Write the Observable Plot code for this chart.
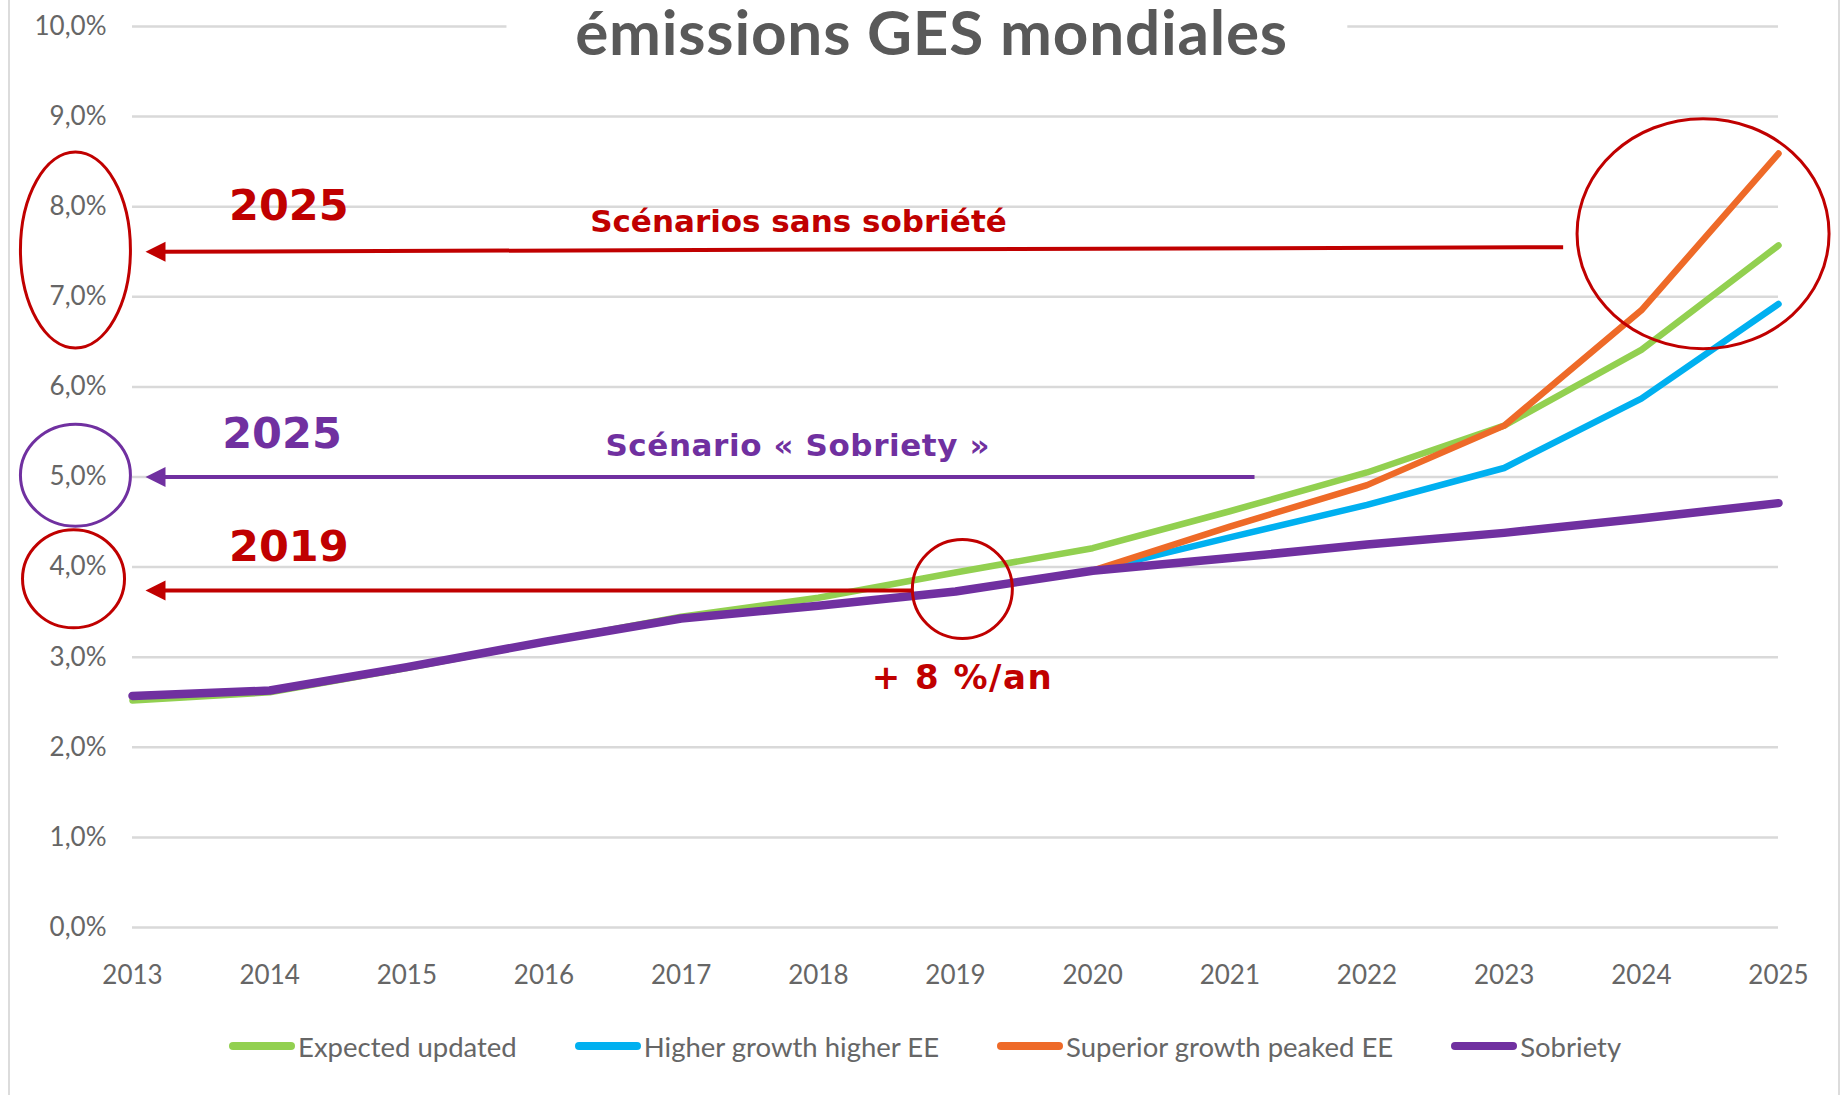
<!DOCTYPE html>
<html>
<head>
<meta charset="utf-8">
<script src="https://cdn.jsdelivr.net/npm/d3@7"></script>
<script src="https://cdn.jsdelivr.net/npm/@observablehq/plot@0.6"></script>
<style>
  html, body { margin: 0; padding: 0; background: #ffffff; }
  #wrap { position: relative; width: 1845px; height: 1095px; overflow: hidden; background: #fff; }
  #chart { position: absolute; left: 0; top: 0; }
  #legend { position: absolute; left: 229px; top: 1010px; height: 72px; display: flex; align-items: center;
            font-family: Lato, sans-serif; font-size: 27.5px; color: #666; }
  .item { display: flex; align-items: center; margin-right: 58px; }
  .sw { display: inline-block; width: 66px; height: 8px; border-radius: 4px; margin-right: 3px; }
  .frame { position: absolute; top: 0; width: 2px; height: 1095px; background: #dcdcdc; }
</style>
</head>
<body>
<div id="wrap">
  <div id="chart"></div>
  <div id="legend"></div>
  <div class="frame" style="left:8px"></div>
  <div class="frame" style="left:1838px"></div>
</div>
<script>
// ---------------- data ----------------
const years = [2013, 2014, 2015, 2016, 2017, 2018, 2019, 2020, 2021, 2022, 2023, 2024, 2025];
const expectedUpdated = [2.52, 2.61, 2.88, 3.17, 3.45, 3.66, 3.94, 4.21, 4.62, 5.05, 5.57, 6.41, 7.57];
const higherGrowthHigherEE = [2.57, 2.63, 2.89, 3.17, 3.43, 3.57, 3.73, 3.96, 4.33, 4.69, 5.10, 5.87, 6.92];
const superiorGrowthPeakedEE = [2.57, 2.63, 2.89, 3.17, 3.43, 3.57, 3.73, 3.96, 4.45, 4.91, 5.57, 6.85, 8.59];
const sobriety = [2.57, 2.63, 2.89, 3.17, 3.43, 3.57, 3.73, 3.96, 4.10, 4.25, 4.38, 4.54, 4.71];
const seriesNames = ["Expected updated", "Higher growth higher EE", "Superior growth peaked EE", "Sobriety"];
const yTicks = [0, 1, 2, 3, 4, 5, 6, 7, 8, 9, 10];
const title = "émissions GES mondiales";

// annotations (in data units: year, percent)
const annotationTexts = [
  {text: "2025", x: 2014.14, y: 8.00, kind: "big", color: "red"},
  {text: "Scénarios sans sobriété", x: 2017.855, y: 7.83, kind: "small", color: "red"},
  {text: "2025", x: 2014.09, y: 5.48, kind: "big", color: "purple"},
  {text: "Scénario « Sobriety »", x: 2017.85, y: 5.34, kind: "small", color: "purple"},
  {text: "2019", x: 2014.14, y: 4.22, kind: "big", color: "red"},
  {text: "+ 8 %/an", x: 2019.05, y: 2.77, kind: "medium", color: "red"}
];
const arrows = [
  {tipX: 2013.095, tipY: 7.50, endX: 2023.43, endY: 7.55, color: "red"},
  {tipX: 2013.095, tipY: 5.00, endX: 2021.18, endY: 5.00, color: "purple"},
  {tipX: 2013.095, tipY: 3.74, endX: 2018.69, endY: 3.74, color: "red"}
];
const ellipseCenters = [
  {id: "top", x: 2024.45, y: 7.70, color: "red"},
  {id: "left8", x: 2012.584, y: 7.52, color: "red"},
  {id: "left5", x: 2012.584, y: 5.02, color: "purple"},
  {id: "left4", x: 2012.57, y: 3.87, color: "red"},
  {id: "y2019", x: 2019.05, y: 3.757, color: "red"}
];
const gridBreak = [{x1: 2013, x2: 2015.73}, {x1: 2021.86, x2: 2025}];

// ---------------- styles ----------------
const seriesColors = ["#92D050", "#00B0F0", "#EE6A28", "#7030A0"];
const seriesWidths = [6.5, 6.5, 6.5, 8.5];
const annColors = {red: "#C00000", purple: "#7030A0"};
const annSizes = {big: 43, small: 31, medium: 34};
const ellipseSizes = {top: [126, 115], left8: [55, 98], left5: [55, 51], left4: [51, 49], y2019: [50, 49.5]};
const letterSpacing = {"+ 8 %/an": "1.5px", "Scénario « Sobriety »": "0.6px"};

// ---------------- table ----------------
const seriesValues = [expectedUpdated, higherGrowthHigherEE, superiorGrowthPeakedEE, sobriety];
const table = [];
seriesNames.forEach((name, s) => years.forEach((yr, i) => table.push({series: name, year: yr, value: seriesValues[s][i]})));

function ellipseSymbol(rx, ry) {
  const k = 0.5523;
  return {draw(c) {
    c.moveTo(rx, 0);
    c.bezierCurveTo(rx, k * ry, k * rx, ry, 0, ry);
    c.bezierCurveTo(-k * rx, ry, -rx, k * ry, -rx, 0);
    c.bezierCurveTo(-rx, -k * ry, -k * rx, -ry, 0, -ry);
    c.bezierCurveTo(k * rx, -ry, rx, -k * ry, rx, 0);
    c.closePath();
  }};
}
const arrowHead = {draw(c) { c.moveTo(0, 0); c.lineTo(20, -10); c.lineTo(20, 10); c.closePath(); }};

const marks = [];
// gridlines
marks.push(Plot.ruleY(yTicks.filter(d => d < 10), {x1: 2013, x2: 2025, stroke: "#d9d9d9", strokeWidth: 2.5}));
marks.push(Plot.ruleY(gridBreak, {y: () => 10, x1: "x1", x2: "x2", stroke: "#d9d9d9", strokeWidth: 2.5}));
// title
marks.push(Plot.text([title], {frameAnchor: "top", dx: -24, dy: 9, lineAnchor: "middle", text: d => d,
  fontFamily: "Lato, sans-serif", fontSize: 62, fontWeight: "bold", fill: "#595959"}));
// series lines
seriesNames.forEach((name, s) => {
  marks.push(Plot.line(table.filter(d => d.series === name), {x: "year", y: "value",
    stroke: seriesColors[s], strokeWidth: seriesWidths[s], strokeLinejoin: "round", strokeLinecap: "round"}));
});
// arrows
marks.push(Plot.link(arrows, {x1: "endX", y1: "endY", x2: d => d.tipX + 0.1, y2: "tipY",
  stroke: d => annColors[d.color], strokeWidth: 4}));
arrows.forEach(a => marks.push(Plot.dot([a], {x: "tipX", y: "tipY", symbol: arrowHead, fill: annColors[a.color], stroke: "none", r: 5})));
// ellipses
ellipseCenters.forEach(e => {
  const [rx, ry] = ellipseSizes[e.id];
  marks.push(Plot.dot([e], {x: "x", y: "y", symbol: ellipseSymbol(rx, ry), fill: "none",
    stroke: annColors[e.color], strokeWidth: 3, r: 5}));
});
// annotation texts
marks.push(Plot.text(annotationTexts, {x: "x", y: "y", text: "text", textAnchor: "middle", lineAnchor: "middle",
  fill: d => annColors[d.color], fontFamily: "'DejaVu Sans', sans-serif", fontWeight: "bold",
  fontSize: d => annSizes[d.kind]}));

const chart = Plot.plot({
  width: 1845, height: 1010,
  marginLeft: 132, marginRight: 67, marginTop: 26, marginBottom: 83,
  x: {domain: [2013, 2025], ticks: years, tickFormat: d => String(d), tickSize: 0, tickPadding: 38, label: null},
  y: {domain: [0, 10], ticks: yTicks, tickFormat: d => d.toFixed(1).replace(".", ",") + "%", tickSize: 0, tickPadding: 26, label: null},
  color: {type: "identity"},
  style: {fontFamily: "Lato, sans-serif", fontSize: "26px", color: "#666", background: "transparent", overflow: "visible"},
  marks
});
// letter spacing for the wider annotation lettering
d3.select(chart).selectAll("text").each(function() {
  const ls = letterSpacing[this.textContent];
  if (ls) this.setAttribute("letter-spacing", ls);
});
d3.select(chart).selectAll("text").filter(function() { return this.textContent === title; }).attr("letter-spacing", "0.8px");
document.getElementById("chart").appendChild(chart);

// legend
const legend = document.getElementById("legend");
seriesNames.forEach((name, s) => {
  const item = document.createElement("div");
  item.className = "item";
  const sw = document.createElement("span");
  sw.className = "sw";
  sw.style.background = seriesColors[s];
  const t = document.createElement("span");
  t.textContent = name;
  item.appendChild(sw); item.appendChild(t);
  legend.appendChild(item);
});
</script>
</body>
</html>
